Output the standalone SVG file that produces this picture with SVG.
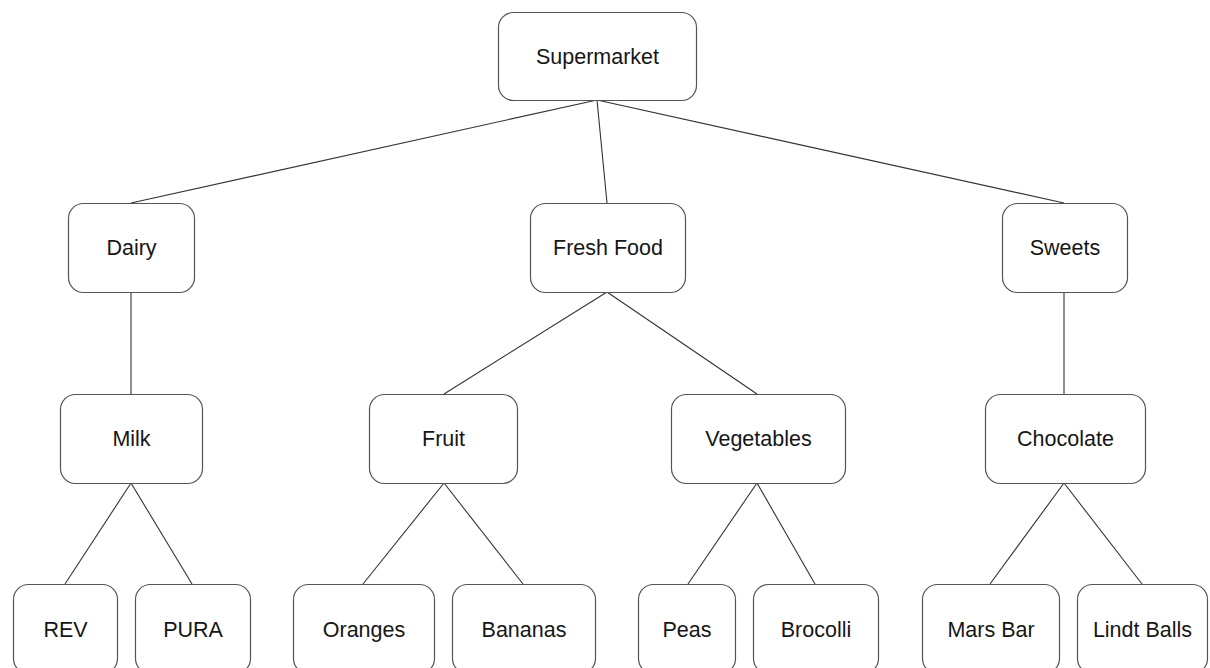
<svg xmlns="http://www.w3.org/2000/svg" width="1210" height="668" viewBox="0 0 1210 668">
  <style>
    .box { fill: #ffffff; stroke: #555555; stroke-width: 1.2; }
    .lbl { font-family: "Liberation Sans", Arial, sans-serif; font-size: 21.5px; fill: #161616; text-anchor: middle; }
    .edge { stroke: #333333; stroke-width: 1.1; fill: none; }
  </style>
  <rect width="1210" height="668" fill="#ffffff"/>

  <!-- tree edges -->
  <g id="connectors">
    <line class="edge" x1="597" y1="100" x2="131" y2="203"/>
    <line class="edge" x1="597" y1="100" x2="607" y2="203"/>
    <line class="edge" x1="597" y1="100" x2="1064" y2="203"/>
    <line class="edge" x1="131" y1="292" x2="131" y2="394"/>
    <line class="edge" x1="607" y1="292" x2="444" y2="394"/>
    <line class="edge" x1="607" y1="292" x2="757" y2="394"/>
    <line class="edge" x1="1064" y1="292" x2="1064" y2="394"/>
    <line class="edge" x1="131" y1="483" x2="65" y2="584"/>
    <line class="edge" x1="131" y1="483" x2="192" y2="584"/>
    <line class="edge" x1="444" y1="483" x2="363" y2="584"/>
    <line class="edge" x1="444" y1="483" x2="523" y2="584"/>
    <line class="edge" x1="757" y1="483" x2="688" y2="584"/>
    <line class="edge" x1="757" y1="483" x2="815" y2="584"/>
    <line class="edge" x1="1064" y1="483" x2="990" y2="584"/>
    <line class="edge" x1="1064" y1="483" x2="1142" y2="584"/>
  </g>

  <!-- level 0 -->
  <g id="supermarket">
    <rect class="box" x="498.5" y="12.5" width="198" height="88" rx="15"/>
    <text class="lbl" x="597.5" y="64">Supermarket</text>
  </g>

  <!-- level 1 -->
  <g id="dairy">
    <rect class="box" x="68.5" y="203.5" width="126" height="89" rx="15"/>
    <text class="lbl" x="131.5" y="255">Dairy</text>
  </g>
  <g id="fresh-food">
    <rect class="box" x="530.5" y="203.5" width="155" height="89" rx="15"/>
    <text class="lbl" x="608" y="255">Fresh Food</text>
  </g>
  <g id="sweets">
    <rect class="box" x="1002.5" y="203.5" width="125" height="89" rx="15"/>
    <text class="lbl" x="1065" y="255">Sweets</text>
  </g>

  <!-- level 2 -->
  <g id="milk">
    <rect class="box" x="60.5" y="394.5" width="142" height="89" rx="15"/>
    <text class="lbl" x="131.5" y="446">Milk</text>
  </g>
  <g id="fruit">
    <rect class="box" x="369.5" y="394.5" width="148" height="89" rx="15"/>
    <text class="lbl" x="443.5" y="446">Fruit</text>
  </g>
  <g id="vegetables">
    <rect class="box" x="671.5" y="394.5" width="174" height="89" rx="15"/>
    <text class="lbl" x="758.5" y="446">Vegetables</text>
  </g>
  <g id="chocolate">
    <rect class="box" x="985.5" y="394.5" width="160" height="89" rx="15"/>
    <text class="lbl" x="1065.5" y="446">Chocolate</text>
  </g>

  <!-- level 3 -->
  <g id="rev">
    <rect class="box" x="13.5" y="584.5" width="104" height="89" rx="15"/>
    <text class="lbl" x="65.5" y="637">REV</text>
  </g>
  <g id="pura">
    <rect class="box" x="135.5" y="584.5" width="115" height="89" rx="15"/>
    <text class="lbl" x="193" y="637">PURA</text>
  </g>
  <g id="oranges">
    <rect class="box" x="293.5" y="584.5" width="141" height="89" rx="15"/>
    <text class="lbl" x="364" y="637">Oranges</text>
  </g>
  <g id="bananas">
    <rect class="box" x="452.5" y="584.5" width="143" height="89" rx="15"/>
    <text class="lbl" x="524" y="637">Bananas</text>
  </g>
  <g id="peas">
    <rect class="box" x="638.5" y="584.5" width="97" height="89" rx="15"/>
    <text class="lbl" x="687" y="637">Peas</text>
  </g>
  <g id="brocolli">
    <rect class="box" x="753.5" y="584.5" width="125" height="89" rx="15"/>
    <text class="lbl" x="816" y="637">Brocolli</text>
  </g>
  <g id="mars-bar">
    <rect class="box" x="922.5" y="584.5" width="137" height="89" rx="15"/>
    <text class="lbl" x="991" y="637">Mars Bar</text>
  </g>
  <g id="lindt-balls">
    <rect class="box" x="1077.5" y="584.5" width="130" height="89" rx="15"/>
    <text class="lbl" x="1142.5" y="637">Lindt Balls</text>
  </g>
</svg>
